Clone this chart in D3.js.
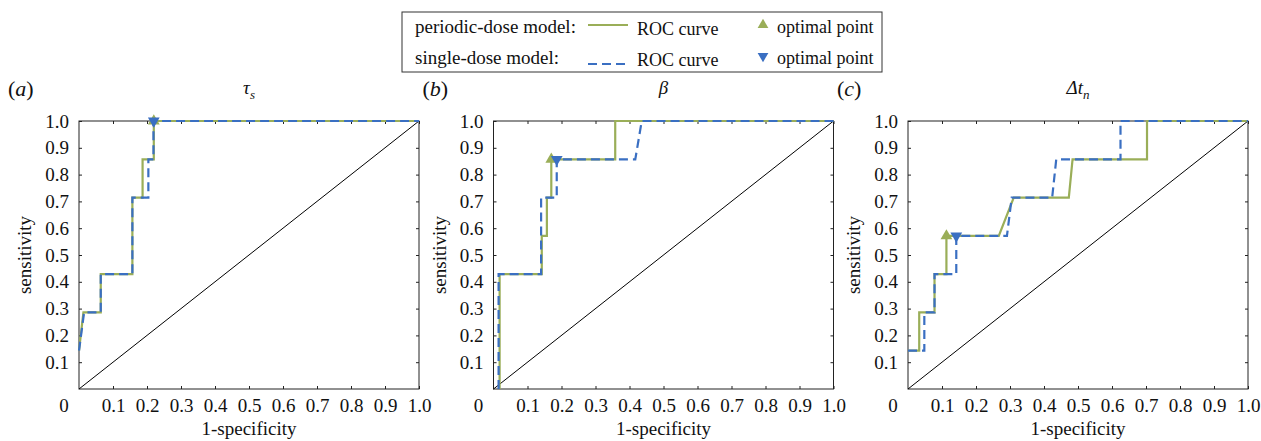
<!DOCTYPE html>
<html>
<head>
<meta charset="utf-8">
<script src="https://cdn.jsdelivr.net/npm/d3@7"></script>
<style>
  body { margin: 0; background: #fff; }
  text { font-family: "Liberation Serif", Tinos, "Times New Roman", Times, "DejaVu Serif", serif; fill: #111; }
</style>
</head>
<body>
<svg id="roc-chart" width="1261" height="441"></svg>
<script>
// panel titles
const panelLetters = ["a", "b", "c"];
const panelParams = ["τ", "β", "Δt"];
const panelParamSubs = ["s", "", "n"];

// periodic-dose model ROC curves (1-specificity, sensitivity)
const periodicFpr = [
  [0, 0.013, 0.064, 0.064, 0.157, 0.157, 0.187, 0.187, 0.22, 0.22, 1.0],
  [0.018, 0.018, 0.142, 0.142, 0.157, 0.157, 0.17, 0.17, 0.358, 0.358, 1.0],
  [0, 0.033, 0.033, 0.078, 0.078, 0.113, 0.113, 0.267, 0.311, 0.473, 0.484, 0.703, 0.703, 1.0],
];
const periodicTpr = [
  [0.143, 0.286, 0.286, 0.429, 0.429, 0.714, 0.714, 0.857, 0.857, 1.0, 1.0],
  [0, 0.429, 0.429, 0.571, 0.571, 0.714, 0.714, 0.857, 0.857, 1.0, 1.0],
  [0.143, 0.143, 0.286, 0.286, 0.429, 0.429, 0.571, 0.571, 0.714, 0.714, 0.857, 0.857, 1.0, 1.0],
];
// single-dose model ROC curves
const singleFpr = [
  [0, 0.015, 0.064, 0.064, 0.157, 0.157, 0.204, 0.204, 0.219, 0.219, 1.0],
  [0.015, 0.015, 0.14, 0.14, 0.186, 0.186, 0.417, 0.436, 1.0],
  [0, 0.048, 0.048, 0.078, 0.078, 0.142, 0.142, 0.291, 0.305, 0.424, 0.436, 0.625, 0.625, 1.0],
];
const singleTpr = [
  [0.143, 0.286, 0.286, 0.429, 0.429, 0.714, 0.714, 0.857, 0.857, 1.0, 1.0],
  [0, 0.429, 0.429, 0.714, 0.714, 0.857, 0.857, 1.0, 1.0],
  [0.143, 0.143, 0.286, 0.286, 0.429, 0.429, 0.571, 0.571, 0.714, 0.714, 0.857, 0.857, 1.0, 1.0],
];
// optimal points [fpr, tpr]
const periodicOptimal = [[0.22, 1.0], [0.17, 0.857], [0.113, 0.571]];
const singleOptimal = [[0.22, 1.0], [0.186, 0.857], [0.142, 0.571]];

const tickValues = [0.1, 0.2, 0.3, 0.4, 0.5, 0.6, 0.7, 0.8, 0.9, 1.0];

const svg = d3.select("svg#roc-chart");
const serif = '"Liberation Serif", Tinos, "Times New Roman", Times, "DejaVu Serif", serif';
const greenColor = "#9aae58";
const blueColor = "#3a6fc2";
const panelLefts = [79, 493.5, 908];
const panelWidth = 340;
const panelTop = 121;
const panelHeight = 268;
const fontSize = 19;

panelLetters.forEach((letter, i) => {
  const x = d3.scaleLinear().domain([0, 1]).range([0, panelWidth]);
  const y = d3.scaleLinear().domain([0, 1]).range([panelHeight, 0]);
  const g = svg.append("g").attr("transform", `translate(${panelLefts[i]}, ${panelTop})`);

  // axes with inward ticks
  g.append("g")
    .attr("transform", `translate(0, ${panelHeight})`)
    .call(d3.axisBottom(x).tickValues(tickValues).tickFormat(d3.format(".1f")).tickSizeInner(-3).tickSizeOuter(0).tickPadding(10))
    .call((a) => a.select(".domain").remove());
  g.append("g")
    .call(d3.axisLeft(y).tickValues(tickValues).tickFormat(d3.format(".1f")).tickSizeInner(-3).tickSizeOuter(0).tickPadding(10))
    .call((a) => a.select(".domain").remove());
  g.append("g")
    .call(d3.axisTop(x).tickValues(tickValues).tickFormat("").tickSizeInner(-3).tickSizeOuter(0))
    .call((a) => a.select(".domain").remove());
  g.append("g")
    .attr("transform", `translate(${panelWidth}, 0)`)
    .call(d3.axisRight(y).tickValues(tickValues).tickFormat("").tickSizeInner(-3).tickSizeOuter(0))
    .call((a) => a.select(".domain").remove());
  g.selectAll("g")
    .attr("font-family", serif)
    .attr("font-size", fontSize);
  g.selectAll(".tick text").attr("fill", "#111");
  g.selectAll(".tick line").attr("stroke", "#222");

  g.append("text")
    .attr("x", -15)
    .attr("y", panelHeight + 10)
    .attr("dy", "0.71em")
    .attr("text-anchor", "middle")
    .style("font-size", fontSize + "px")
    .text("0");

  g.append("rect")
    .attr("width", panelWidth)
    .attr("height", panelHeight)
    .attr("fill", "none")
    .attr("stroke", "#222")
    .attr("stroke-width", 1);

  // chance diagonal
  g.append("line")
    .attr("x1", x(0)).attr("y1", y(0))
    .attr("x2", x(1)).attr("y2", y(1))
    .attr("stroke", "#000")
    .attr("stroke-width", 1);

  const line = d3.line().x((d) => x(d[0])).y((d) => y(d[1]));
  const periodicPts = d3.zip(periodicFpr[i], periodicTpr[i]);
  const singlePts = d3.zip(singleFpr[i], singleTpr[i]);

  g.append("path")
    .attr("d", line(periodicPts))
    .attr("fill", "none")
    .attr("stroke", greenColor)
    .attr("stroke-width", 2.2);
  g.append("path")
    .attr("d", line(singlePts))
    .attr("fill", "none")
    .attr("stroke", blueColor)
    .attr("stroke-width", 2.2)
    .attr("stroke-dasharray", "9,5");

  const tri = d3.symbol().type(d3.symbolTriangle).size(60);
  g.append("path")
    .attr("d", tri())
    .attr("transform", `translate(${x(periodicOptimal[i][0])}, ${y(periodicOptimal[i][1])})`)
    .attr("fill", greenColor);
  g.append("path")
    .attr("d", tri())
    .attr("transform", `translate(${x(singleOptimal[i][0])}, ${y(singleOptimal[i][1])}) rotate(180)`)
    .attr("fill", blueColor);

  // axis labels
  g.append("text")
    .attr("x", panelWidth / 2)
    .attr("y", panelHeight + 46)
    .attr("text-anchor", "middle")
    .style("font-size", fontSize + "px")
    .text("1-specificity");
  g.append("text")
    .attr("transform", `translate(${-48}, ${panelHeight / 2}) rotate(-90)`)
    .attr("text-anchor", "middle")
    .style("font-size", fontSize + "px")
    .text("sensitivity");

  // panel title
  const title = g.append("text")
    .attr("x", panelWidth / 2)
    .attr("y", -27)
    .attr("text-anchor", "middle")
    .style("font-size", fontSize + "px")
    .style("font-style", "italic");
  title.append("tspan").text(panelParams[i]);
  if (panelParamSubs[i]) {
    title.append("tspan")
      .attr("dy", 5)
      .style("font-size", "13px")
      .text(panelParamSubs[i]);
  }

  // panel letter
  const lbl = g.append("text")
    .attr("x", -71)
    .attr("y", -25)
    .style("font-size", "22px");
  lbl.append("tspan").text("(");
  lbl.append("tspan").style("font-style", "italic").text(letter);
  lbl.append("tspan").text(")");
});

// legend
const legend = svg.append("g").attr("transform", "translate(402, 12)");
legend.append("rect")
  .attr("width", 480)
  .attr("height", 60)
  .attr("fill", "#fff")
  .attr("stroke", "#333")
  .attr("stroke-width", 1);
const legendRows = ["periodic-dose model:", "single-dose model:"];
const legendColors = [greenColor, blueColor];
legendRows.forEach((label, k) => {
  const cy = 15 + k * 31;
  legend.append("text").attr("x", 13).attr("y", cy).attr("dy", "0.32em").style("font-size", "19px").text(label);
  legend.append("line")
    .attr("x1", 186).attr("x2", 226)
    .attr("y1", cy - 2 + k * 8).attr("y2", cy - 2 + k * 8)
    .attr("stroke", legendColors[k])
    .attr("stroke-width", 2.2)
    .attr("stroke-dasharray", k === 1 ? "9,5" : null);
  legend.append("text").attr("x", 235).attr("y", cy + 2).attr("dy", "0.32em").style("font-size", "18px").text("ROC curve");
  legend.append("path")
    .attr("d", d3.symbol().type(d3.symbolTriangle).size(50)())
    .attr("transform", `translate(361, ${cy - 2}) rotate(${k === 1 ? 180 : 0})`)
    .attr("fill", legendColors[k]);
  legend.append("text").attr("x", 375).attr("y", cy).attr("dy", "0.32em").style("font-size", "18px").text("optimal point");
});
</script>
</body>
</html>
